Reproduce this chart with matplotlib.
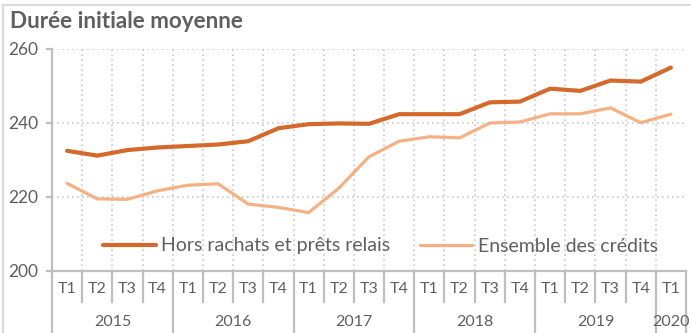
import matplotlib.pyplot as plt
from matplotlib.lines import Line2D

# Quarterly series, 2015 T1 -> 2020 T1
quarters = ["T1", "T2", "T3", "T4"] * 5 + ["T1"]
years = ["2015", "2016", "2017", "2018", "2019", "2020"]
hors_rachats = [232.4, 231.1, 232.6, 233.3, 233.7, 234.1, 235.0, 238.5,
                239.6, 239.8, 239.7, 242.3, 242.3, 242.3, 245.5, 245.7,
                249.2, 248.6, 251.4, 251.1, 254.9]
ensemble = [223.6, 219.4, 219.3, 221.6, 223.1, 223.5, 218.0, 217.1,
            215.7, 222.3, 230.8, 235.0, 236.2, 235.9, 239.9, 240.2,
            242.4, 242.4, 244.0, 240.0, 242.3]
y_ticks = [200, 220, 240, 260]

dark = "#D5692B"
light = "#F5B183"
text_grey = "#5F5F5F"
axis_grey = "#BFBFBF"
grid_grey = "#C9C9C9"

plt.rcParams["font.family"] = ["Lato", "DejaVu Sans"]

W, H = 691, 333
fig = plt.figure(figsize=(W / 100, H / 100), dpi=100)
left, right, top, bottom = 52, 686, 48.7, 270.7
ax = fig.add_axes([left / W, (H - bottom) / H, (right - left) / W, (bottom - top) / H])

x = list(range(len(quarters)))
ax.plot(x, hors_rachats, color=dark, lw=3.0, solid_capstyle="round",
        solid_joinstyle="round", zorder=4)
ax.plot(x, ensemble, color=light, lw=2.3, solid_capstyle="round",
        solid_joinstyle="round", zorder=3)

ax.set_xlim(-0.5, len(quarters) - 0.5)
ax.set_ylim(200, 260)

# dotted grid: horizontal at y ticks, vertical at category boundaries
for yv in y_ticks[1:]:
    ax.axhline(yv, color=grid_grey, lw=1.2, ls=(0, (1, 2)), zorder=1)
for b in range(1, len(quarters)):
    ax.axvline(b - 0.5, color=grid_grey, lw=1.2, ls=(0, (1, 2)), zorder=1)

for s in ["top", "right"]:
    ax.spines[s].set_visible(False)
for s in ["left", "bottom"]:
    ax.spines[s].set_color(axis_grey)
    ax.spines[s].set_linewidth(1.6)

ax.set_yticks(y_ticks)
ax.set_yticklabels([str(v) for v in y_ticks], fontsize=12.5, color=text_grey)
ax.tick_params(axis="y", length=4, width=1.6, color=axis_grey, pad=6)
ax.set_xticks([])

# two-level category axis below the plot
ax_h = bottom - top
tr = ax.get_xaxis_transform()
def fy(px):
    return -(px - bottom) / ax_h

for i, q in enumerate(quarters):
    ax.text(i, fy(289), q, transform=tr, ha="center", va="center",
            fontsize=11.5, color=text_grey)
year_bounds = [-0.5, 3.5, 7.5, 11.5, 15.5, 19.5, 20.5]
for b in range(len(quarters) + 1):
    xb = b - 0.5
    end = 333 if xb in year_bounds else 301.7
    ax.add_line(Line2D([xb, xb], [0, fy(end)], transform=tr, color=axis_grey,
                       lw=1.6, clip_on=False))
for k, yr in enumerate(years):
    c = (year_bounds[k] + year_bounds[k + 1]) / 2
    ax.text(c, fy(322), yr, transform=tr, ha="center", va="center",
            fontsize=11.5, color=text_grey)

leg = ax.legend([Line2D([], [], color=dark, lw=3.0, solid_capstyle="round"),
                 Line2D([], [], color=light, lw=2.3, solid_capstyle="round")],
                ["Hors rachats et prêts relais", "Ensemble des crédits"],
                loc="center left", bbox_to_anchor=((103 - left) / (right - left), (bottom - 246) / ax_h),
                ncol=2, frameon=False, fontsize=14, handlelength=2.7,
                handletextpad=0.3, columnspacing=1.5, borderpad=0, borderaxespad=0)
for t in leg.get_texts():
    t.set_color(text_grey)

fig.text(10 / W, (H - 22) / H, "Durée initiale moyenne", fontsize=16.2,
         fontweight="bold", color=text_grey, ha="left", va="center")

# light frame around the chart
fig.add_artist(Line2D([3 / W, 3 / W], [0, (H - 4.5) / H], color="#D9D9D9", lw=1.5))
fig.add_artist(Line2D([3 / W, 1], [(H - 4.5) / H, (H - 4.5) / H], color="#D9D9D9", lw=1.5))

fig.savefig("out.png", dpi=100)
